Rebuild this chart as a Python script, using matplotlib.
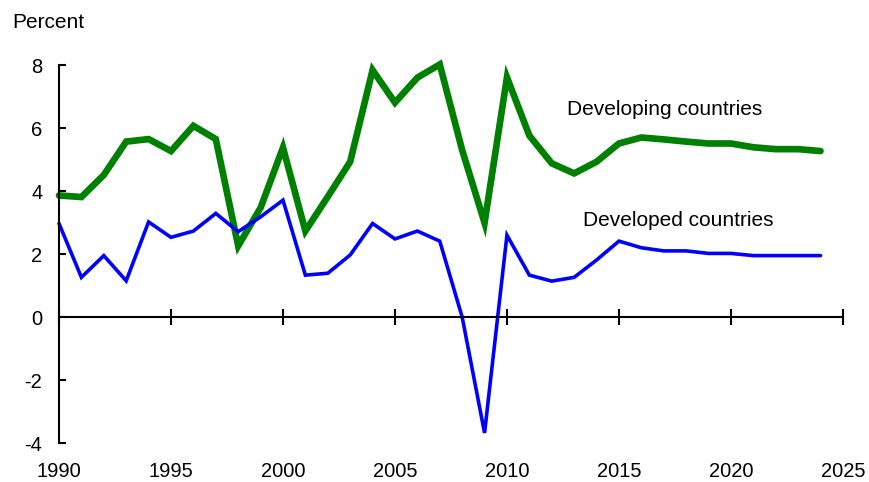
import numpy as np
import matplotlib.pyplot as plt

plt.rcParams['font.family'] = ['Liberation Sans', 'DejaVu Sans']

years = np.arange(1990, 2025)

# real GDP growth, percent
developing = [3.86, 3.81, 4.51, 5.57, 5.65, 5.27, 6.07, 5.65, 2.26, 3.47,
              5.38, 2.73, 3.82, 4.93, 7.84, 6.81, 7.60, 8.02, 5.30, 2.99,
              7.61, 5.76, 4.88, 4.56, 4.93, 5.51, 5.70, 5.64, 5.57, 5.51,
              5.51, 5.39, 5.33, 5.33, 5.27]
developed = [2.97, 1.26, 1.95, 1.15, 3.02, 2.53, 2.73, 3.29, 2.71, 3.18,
             3.71, 1.33, 1.39, 1.97, 2.97, 2.48, 2.73, 2.41, 0.00, -3.68,
             2.60, 1.33, 1.14, 1.26, 1.81, 2.41, 2.20, 2.10, 2.10, 2.02,
             2.02, 1.95, 1.95, 1.95, 1.95]

xticks = [1990, 1995, 2000, 2005, 2010, 2015, 2020, 2025]
yticks = [-4, -2, 0, 2, 4, 6, 8]

fig = plt.figure(figsize=(8.69, 4.82), dpi=100)
ax = fig.add_axes([0.0679, 0.0809, 0.9021, 0.7841])

ax.plot(years, developing, color='#008000', lw=4.8, clip_on=False,
        solid_joinstyle='miter', solid_capstyle='round')
ax.plot(years, developed, color='#0000ff', lw=2.6, clip_on=False,
        solid_joinstyle='miter', solid_capstyle='round')

ax.set_xlim(1990, 2025)
ax.set_ylim(-4, 8)

for s in ['top', 'right']:
    ax.spines[s].set_visible(False)
ax.spines['bottom'].set_position(('data', 0))
ax.spines['bottom'].set_linewidth(1.5)
ax.spines['left'].set_linewidth(1.5)

ax.set_yticks(yticks)
ax.set_yticklabels([str(v) for v in yticks], fontsize=14.5)
ax.tick_params(axis='y', direction='in', length=5, width=1.5, pad=12)

ax.set_xticks(xticks)
ax.set_xticklabels([])
ax.tick_params(axis='x', direction='inout', length=12, width=1.5)
for x in xticks:
    ax.text(x, -0.075, str(x), transform=ax.get_xaxis_transform(),
            ha='center', va='center', fontsize=14.5)

fig.text(12 / 869, 1 - 22 / 482, 'Percent', fontsize=15, va='center', ha='left')
ax.text(2012.7, 6.6, 'Developing countries', fontsize=15, va='center')
ax.text(2013.4, 3.05, 'Developed countries', fontsize=15, va='center')

fig.savefig('out.png', dpi=100)
